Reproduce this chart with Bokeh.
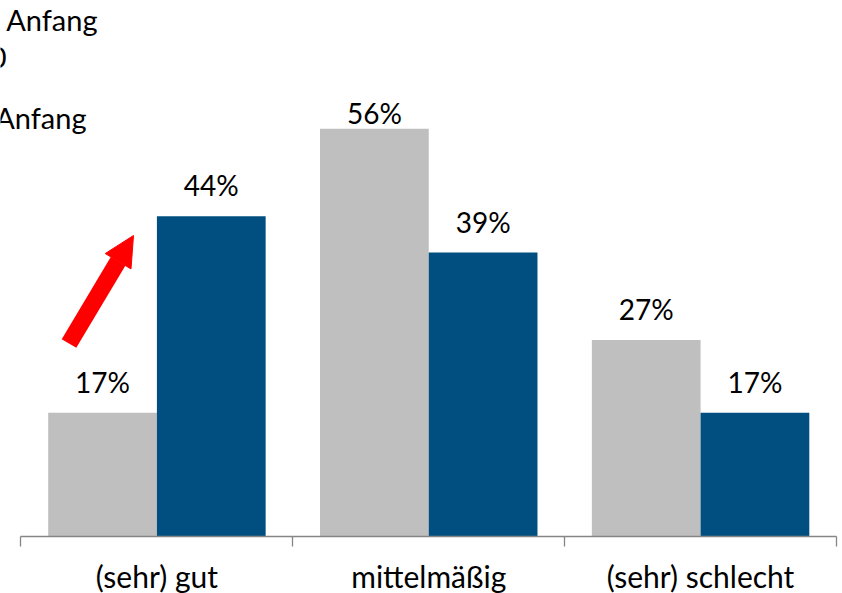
from bokeh.plotting import figure
from bokeh.models import (ColumnDataSource, FixedTicker, Range1d, Label, Arrow,
                          NormalHead)
from bokeh.transform import dodge
from bokeh.core.properties import value
from bokeh.embed import file_html
from bokeh.resources import INLINE

# ---- data ----
categories = ["(sehr) gut", "mittelmäßig", "(sehr) schlecht"]
anfang = [17, 56, 27]      # grey series
ende = [44, 39, 17]        # blue series
legend_texts = ["Anfang", "0", "Anfang"]

n = len(categories)
centers = [i + 0.5 for i in range(n)]
boundaries = list(range(n + 1))

Y_TOP = 73.63


def label_offsets(vals):
    # labels sit 20px above their bar, but are pushed down near the top edge
    return [-31 if v < Y_TOP - 20 else -16 for v in vals]


src = ColumnDataSource(dict(
    x=centers,
    anfang=anfang,
    ende=ende,
    anfang_lbl=[f"{v}%" for v in anfang],
    ende_lbl=[f"{v}%" for v in ende],
    anfang_off=label_offsets(anfang),
    ende_off=label_offsets(ende),
))

GREY = "#BFBFBF"
BLUE = "#004F80"
FONT = "Lato"

p = figure(width=842, height=593, output_backend="svg", toolbar_location=None,
           x_range=Range1d(-0.0754, 3.0221), y_range=Range1d(-7.83, Y_TOP),
           y_axis_location=None, min_border_left=0, min_border_right=0,
           min_border_top=0, min_border_bottom=0)
p.outline_line_color = None
p.grid.visible = False
p.background_fill_color = "white"
p.border_fill_color = "white"

p.vbar(x=dodge("x", -0.2), top="anfang", width=0.4, source=src,
       fill_color=GREY, line_color=None)
p.vbar(x=dodge("x", 0.2), top="ende", width=0.4, source=src,
       fill_color=BLUE, line_color=None)

p.text(x=dodge("x", -0.2), y="anfang", text="anfang_lbl", source=src,
       y_offset="anfang_off", text_align="center", text_baseline="alphabetic",
       text_font=value(FONT), text_font_size="28px", text_color="black")
p.text(x=dodge("x", 0.2), y="ende", text="ende_lbl", source=src,
       y_offset="ende_off", text_align="center", text_baseline="alphabetic",
       text_font=value(FONT), text_font_size="28px", text_color="black")

ax = p.xaxis[0]
ax.fixed_location = 0
ax.ticker = FixedTicker(ticks=centers, minor_ticks=boundaries)
ax.major_label_overrides = {c: cat for c, cat in zip(centers, categories)}
ax.bounds = (0, n)
ax.axis_line_color = "#868686"
ax.axis_line_width = 1.3
ax.major_tick_out = 0
ax.major_tick_in = 0
ax.minor_tick_out = 10
ax.minor_tick_in = 0
ax.minor_tick_line_color = "#868686"
ax.minor_tick_line_width = 1.3
ax.major_label_standoff = 11
ax.major_label_text_font = FONT
ax.major_label_text_font_size = "30px"
ax.major_label_text_color = "black"

# (partly clipped) legend texts at the top left
for txt, lx, ly in zip(legend_texts, [0.2814, -0.0533, 0.2410],
                       [71.0, 65.8, 57.55]):
    p.add_layout(Label(x=lx, y=ly, text=txt, text_align="right",
                       text_baseline="alphabetic", text_font=FONT,
                       text_font_size="29px", text_color="black"))

# red arrow
p.add_layout(Arrow(x_start=0.1766, y_start=26.51, x_end=0.4139, y_end=41.35,
                   line_color="#FF0000", line_width=17,
                   end=NormalHead(size=30, fill_color="#FF0000",
                                  line_color="#FF0000")))

open("out.html", "w").write(file_html(p, INLINE))
